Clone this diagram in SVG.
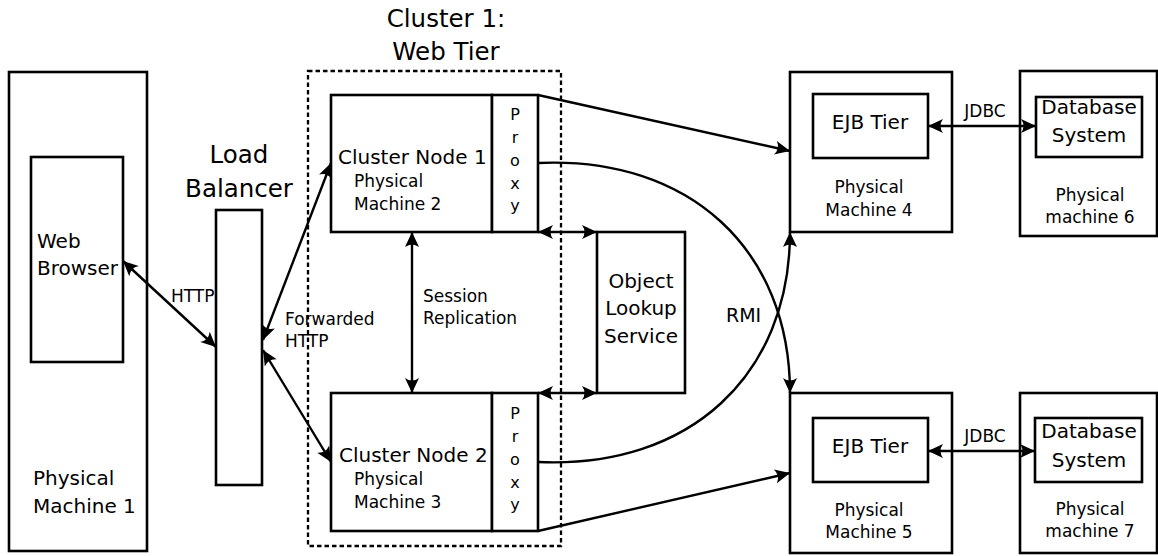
<svg xmlns="http://www.w3.org/2000/svg" width="1158" height="556" viewBox="0 0 1158 556">
  <style>
    text { font-family: "DejaVu Sans", "Liberation Sans", sans-serif; fill: #000; }
    .box { fill: #fff; stroke: #000; stroke-width: 2.6; }
    .cluster { fill: none; stroke: #000; stroke-width: 2.3; stroke-dasharray: 4.5 3; }
    .conn { fill: none; stroke: #000; stroke-width: 2.4; }
    .big { font-size: 24.5px; }
    .lbl { font-size: 20px; }
    .sm { font-size: 17px; }
    .px { font-size: 16px; text-anchor: middle; }
    .mid { text-anchor: middle; }
  </style>
  <defs>
    <marker id="arrow" markerUnits="userSpaceOnUse" markerWidth="19" markerHeight="18" viewBox="-17 -9 19 18" refX="0" refY="0" orient="auto-start-reverse">
      <path d="M0,0 L-15,-7 Q-10,0 -15,7 Z" fill="#000"/>
    </marker>
  </defs>

  <rect width="1158" height="556" fill="#fff"/>

  <!-- Cluster 1 boundary and title -->
  <g id="cluster1">
    <rect class="cluster" x="308" y="71" width="253" height="475"/>
    <text class="big mid" x="446" y="27">Cluster 1:</text>
    <text class="big mid" x="446" y="60">Web Tier</text>
  </g>

  <g id="machine1">
    <rect class="box" x="9" y="72" width="138" height="479"/>
    <text class="lbl" x="33" y="485">Physical</text>
    <text class="lbl" x="33" y="513">Machine 1</text>
  </g>

  <g id="web-browser">
    <rect class="box" x="31" y="157" width="92" height="205"/>
    <text class="lbl" x="37" y="248">Web</text>
    <text class="lbl" x="37" y="275">Browser</text>
  </g>

  <g id="load-balancer">
    <rect class="box" x="216" y="210" width="46" height="275"/>
    <text class="big mid" x="239" y="163">Load</text>
    <text class="big mid" x="239" y="197">Balancer</text>
  </g>

  <g id="cluster-node-1">
    <rect class="box" x="331" y="95" width="161" height="137"/>
    <text class="lbl" x="338" y="164">Cluster Node 1</text>
    <text class="sm" x="354" y="187">Physical</text>
    <text class="sm" x="354" y="210">Machine 2</text>
  </g>

  <g id="proxy-1">
    <rect class="box" x="492" y="95" width="46" height="137"/>
    <text class="px" x="515" y="120">P</text>
    <text class="px" x="515" y="143">r</text>
    <text class="px" x="515" y="166">o</text>
    <text class="px" x="515" y="189">x</text>
    <text class="px" x="515" y="211">y</text>
  </g>

  <g id="cluster-node-2">
    <rect class="box" x="331" y="393" width="161" height="138"/>
    <text class="lbl" x="339" y="462">Cluster Node 2</text>
    <text class="sm" x="354" y="485">Physical</text>
    <text class="sm" x="354" y="508">Machine 3</text>
  </g>

  <g id="proxy-2">
    <rect class="box" x="492" y="393" width="46" height="138"/>
    <text class="px" x="515" y="419">P</text>
    <text class="px" x="515" y="442">r</text>
    <text class="px" x="515" y="465">o</text>
    <text class="px" x="515" y="488">x</text>
    <text class="px" x="515" y="510">y</text>
  </g>

  <g id="object-lookup-service">
    <rect class="box" x="597" y="232" width="88" height="161"/>
    <text class="lbl mid" x="641" y="288">Object</text>
    <text class="lbl mid" x="641" y="315">Lookup</text>
    <text class="lbl mid" x="641" y="343">Service</text>
  </g>

  <g id="machine4">
    <rect class="box" x="790" y="72" width="162" height="160"/>
    <rect class="box" x="813" y="94" width="115" height="64"/>
    <text class="lbl mid" x="870" y="129">EJB Tier</text>
    <text class="sm mid" x="869" y="193">Physical</text>
    <text class="sm mid" x="869" y="216">Machine 4</text>
  </g>

  <g id="machine6">
    <rect class="box" x="1020" y="71" width="137" height="165"/>
    <rect class="box" x="1036" y="97" width="106" height="60"/>
    <text class="lbl mid" x="1089" y="114">Database</text>
    <text class="lbl mid" x="1089" y="142">System</text>
    <text class="sm mid" x="1090" y="201">Physical</text>
    <text class="sm mid" x="1090" y="223">machine 6</text>
  </g>

  <g id="machine5">
    <rect class="box" x="790" y="393" width="162" height="160"/>
    <rect class="box" x="813" y="418" width="115" height="64"/>
    <text class="lbl mid" x="870" y="453">EJB Tier</text>
    <text class="sm mid" x="869" y="516">Physical</text>
    <text class="sm mid" x="869" y="538">Machine 5</text>
  </g>

  <g id="machine7">
    <rect class="box" x="1020" y="393" width="137" height="160"/>
    <rect class="box" x="1035" y="418" width="107" height="64"/>
    <text class="lbl mid" x="1089" y="438">Database</text>
    <text class="lbl mid" x="1089" y="467">System</text>
    <text class="sm mid" x="1090" y="515">Physical</text>
    <text class="sm mid" x="1090" y="537">machine 7</text>
  </g>

  <!-- Connectors -->
  <g id="connectors">
    <line class="conn" x1="123" y1="261" x2="216" y2="347" marker-start="url(#arrow)" marker-end="url(#arrow)"/>
    <line class="conn" x1="263" y1="340" x2="331" y2="163" marker-start="url(#arrow)" marker-end="url(#arrow)"/>
    <line class="conn" x1="263" y1="350" x2="331" y2="462" marker-start="url(#arrow)" marker-end="url(#arrow)"/>
    <line class="conn" x1="412" y1="232" x2="412" y2="393" marker-start="url(#arrow)" marker-end="url(#arrow)"/>
    <line class="conn" x1="538" y1="232" x2="597" y2="232" marker-start="url(#arrow)" marker-end="url(#arrow)"/>
    <line class="conn" x1="538" y1="393" x2="597" y2="393" marker-start="url(#arrow)" marker-end="url(#arrow)"/>
    <line class="conn" x1="538" y1="95" x2="790" y2="151" marker-end="url(#arrow)"/>
    <line class="conn" x1="538" y1="531" x2="790" y2="473" marker-end="url(#arrow)"/>
    <path class="conn" d="M538,163 C690,156 790,250 790,393" marker-end="url(#arrow)"/>
    <path class="conn" d="M538,462 C690,469 790,375 790,232" marker-end="url(#arrow)"/>
    <line class="conn" x1="928" y1="126" x2="1036" y2="126" marker-start="url(#arrow)" marker-end="url(#arrow)"/>
    <line class="conn" x1="928" y1="451" x2="1035" y2="451" marker-start="url(#arrow)" marker-end="url(#arrow)"/>
  </g>

  <!-- Connector labels -->
  <g id="connector-labels">
    <text class="sm" x="171" y="302">HTTP</text>
    <text class="sm" x="285" y="325">Forwarded</text>
    <text class="sm" x="285" y="347">HTTP</text>
    <text class="sm" x="423" y="302">Session</text>
    <text class="sm" x="423" y="324">Replication</text>
    <text x="726" y="322" style="font-size:19px">RMI</text>
    <text class="sm mid" x="985" y="117">JDBC</text>
    <text class="sm mid" x="985" y="442">JDBC</text>
  </g>
</svg>
